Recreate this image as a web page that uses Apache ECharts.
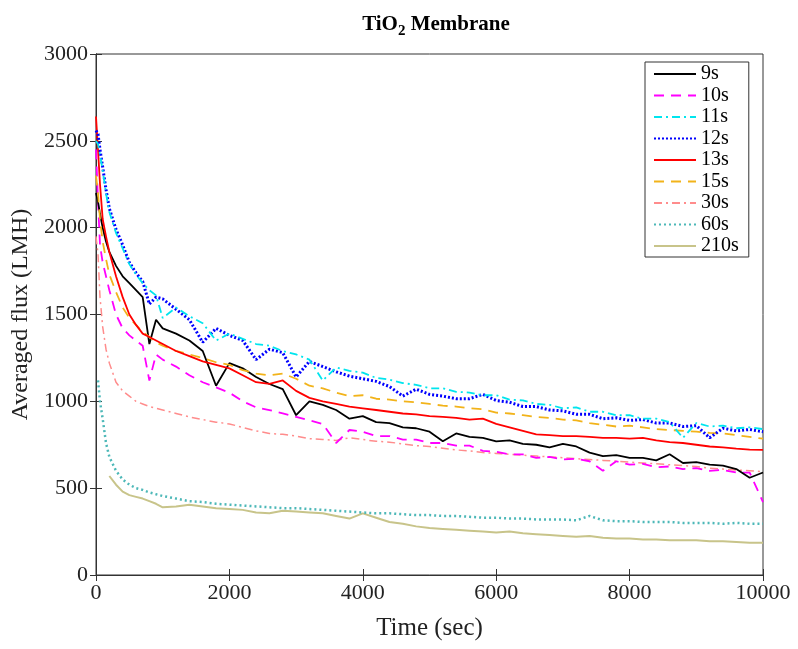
<!DOCTYPE html>
<html>
<head>
<meta charset="utf-8">
<script src="https://cdn.jsdelivr.net/npm/echarts@6/dist/echarts.min.js"></script>
<style>
  html, body { margin: 0; padding: 0; background: #fff; }
  #chart { width: 798px; height: 649px; }
</style>
</head>
<body>
<div id="chart"></div>
<script>
// time points (sec)
var times = [0, 30, 60, 100, 150, 200, 300, 400, 500, 600, 700, 800, 900, 1000,
  1200, 1400, 1600, 1800, 2000, 2200, 2400, 2600, 2800, 3000, 3200, 3400, 3600, 3800,
  4000, 4200, 4400, 4600, 4800, 5000, 5200, 5400, 5600, 5800, 6000, 6200, 6400, 6600,
  6800, 7000, 7200, 7400, 7600, 7800, 8000, 8200, 8400, 8600, 8800, 9000, 9200, 9400,
  9600, 9800, 10000];

var xTicks = [0, 2000, 4000, 6000, 8000, 10000];
var yTicks = [0, 500, 1000, 1500, 2000, 2500, 3000];
var names = ["9s", "10s", "11s", "12s", "13s", "15s", "30s", "60s", "210s"];

var flux9 = [2200, 2150, 2080, 2000, 1920, 1860, 1780, 1720, 1680, 1640, 1600, 1330, 1470, 1420,
  1390, 1350, 1290, 1090, 1220, 1190, 1140, 1100, 1070, 920, 1000, 980, 950, 900,
  915, 880, 875, 850, 845, 825, 770, 815, 795, 790, 770, 775, 755, 750,
  735, 755, 740, 705, 685, 690, 675, 675, 660, 695, 645, 650, 635, 630,
  610, 560, 590];
var flux10 = [2450, 2150, 1900, 1800, 1720, 1640, 1500, 1420, 1380, 1350, 1320, 1120, 1270, 1240,
  1200, 1150, 1110, 1080, 1050, 1000, 965, 950, 930, 910, 890, 870, 760, 835,
  825, 800, 800, 780, 780, 760, 760, 745, 745, 715, 710, 695, 695, 675,
  680, 665, 670, 655, 600, 655, 635, 640, 620, 625, 610, 615, 600, 605,
  590, 590, 420];
var flux11 = [2500, 2480, 2420, 2330, 2200, 2090, 1970, 1880, 1790, 1730, 1680, 1640, 1610, 1480,
  1540, 1490, 1450, 1350, 1390, 1360, 1330, 1320, 1290, 1270, 1240, 1120, 1195, 1175,
  1165, 1135, 1125, 1105, 1095, 1075, 1075, 1055, 1050, 1035, 1035, 1010, 1005, 985,
  980, 960, 965, 940, 940, 920, 920, 900, 900, 880, 790, 875, 855, 860,
  845, 850, 840];
var flux12 = [2560, 2540, 2450, 2350, 2220, 2110, 1990, 1900, 1800, 1740, 1690, 1560, 1600, 1590,
  1530, 1470, 1340, 1420, 1380, 1350, 1240, 1300, 1280, 1140, 1230, 1200, 1170, 1145,
  1130, 1115, 1085, 1030, 1070, 1040, 1030, 1015, 1015, 1040, 1005, 995, 970, 970,
  950, 945, 925, 925, 900, 905, 890, 895, 875, 875, 855, 860, 790, 845,
  830, 838, 825];
var flux13 = [2640, 2450, 2250, 2050, 1950, 1860, 1720, 1600, 1500, 1440, 1390, 1370, 1350, 1330,
  1290, 1260, 1230, 1210, 1190, 1150, 1110, 1100, 1120, 1060, 1020, 1000, 985, 970,
  960, 950, 940, 930, 925, 915, 910, 905, 895, 900, 870, 850, 830, 810,
  805, 800, 800, 795, 790, 790, 785, 790, 775, 765, 760, 750, 740, 735,
  728, 722, 720];
var flux15 = [2300, 2200, 2050, 1920, 1820, 1730, 1630, 1540, 1480, 1440, 1400, 1370, 1340, 1320,
  1290, 1270, 1250, 1225, 1210, 1180, 1160, 1150, 1160, 1130, 1090, 1075, 1050, 1030,
  1035, 1015, 1010, 1000, 995, 985, 975, 970, 960, 955, 935, 930, 920, 910,
  905, 895, 890, 875, 865, 855, 860, 850, 840, 835, 830, 825, 818, 815,
  805, 795, 785];
var flux30 = [1950, 1850, 1600, 1430, 1300, 1220, 1110, 1060, 1030, 1000, 985, 970, 960, 950,
  930, 910, 895, 880, 870, 850, 830, 815, 810, 800, 785, 780, 775, 790,
  780, 770, 765, 755, 745, 740, 730, 720, 715, 705, 700, 695, 690, 685,
  680, 675, 670, 665, 660, 655, 650, 645, 640, 635, 630, 625, 615, 610,
  605, 600, 595];
var flux60 = [null, 1120, 1000, 900, 760, 680, 600, 550, 520, 500, 490, 475, 465, 455,
  440, 425, 420, 410, 405, 400, 395, 390, 385, 385, 380, 375, 370, 365,
  360, 355, 355, 350, 345, 345, 340, 340, 335, 330, 330, 325, 325, 320,
  320, 320, 315, 340, 315, 310, 310, 305, 305, 305, 300, 300, 300, 295,
  300, 295, 295];
var flux210 = [null, null, null, null, null, 570, 520, 480, 460, 450, 440, 425, 410, 390,
  395, 405, 395, 385, 380, 375, 360, 355, 370, 365, 360, 355, 340, 325,
  355, 330, 305, 295, 280, 270, 265, 260, 255, 250, 245, 250, 240, 235,
  230, 225, 220, 225, 215, 210, 210, 205, 205, 200, 200, 200, 195, 195,
  190, 185, 185];

var serif = "Liberation Serif";

function pairs(vals) {
  return times.map(function (t, i) { return [t, vals[i]]; });
}

function line(name, vals, color, type, width) {
  return {
    name: name,
    type: "line",
    showSymbol: false,
    symbol: "none",
    data: pairs(vals),
    lineStyle: { color: color, type: type, width: width },
    itemStyle: { color: color }
  };
}

function frameAxis(extra) {
  var base = {
    type: "value",
    axisLine: { show: true, lineStyle: { color: "#333" } },
    axisTick: { show: true, inside: true, length: 6, lineStyle: { color: "#333" } },
    splitLine: { show: false }
  };
  return Object.assign(base, extra);
}

var chart = echarts.init(document.getElementById("chart"));
chart.setOption({
  animation: false,
  title: {
    text: "{a|TiO}{b|2}{a| Membrane}",
    left: 431,
    top: 6,
    textAlign: "center",
    textStyle: {
      rich: {
        a: { fontFamily: serif, fontWeight: "bold", fontSize: 21, color: "#000" },
        b: { fontFamily: serif, fontWeight: "bold", fontSize: 15, color: "#000", padding: [13, 0, 0, 0] }
      }
    }
  },
  grid: { left: 96, right: 35, top: 54, bottom: 74, show: true, borderColor: "#333", borderWidth: 1 },
  legend: {
    data: names,
    orient: "vertical",
    left: 645,
    top: 62,
    padding: [2, 10, 1, 8],
    backgroundColor: "#fff",
    borderColor: "#333",
    borderWidth: 1,
    borderRadius: 0,
    itemWidth: 42,
    itemHeight: 14,
    itemGap: 1.5,
    itemStyle: { opacity: 0 },
    textStyle: { fontFamily: serif, fontSize: 20, lineHeight: 20, color: "#000" }
  },
  xAxis: [frameAxis({
    min: 0,
    max: 10000,
    interval: 2000,
    name: "Time (sec)",
    nameLocation: "middle",
    nameGap: 41,
    nameTextStyle: { fontFamily: serif, fontSize: 25, color: "#222" },
    axisLabel: {
      fontFamily: serif, fontSize: 22, color: "#222", margin: 7,
      formatter: function (v) { return xTicks.indexOf(v) >= 0 ? String(v) : ""; }
    }
  }), frameAxis({
    position: "top",
    min: 0,
    max: 10000,
    interval: 2000,
    axisLabel: { show: false }
  })],
  yAxis: [frameAxis({
    min: 0,
    max: 3000,
    interval: 500,
    name: "Averaged flux (LMH)",
    nameLocation: "middle",
    nameGap: 60,
    nameTextStyle: { fontFamily: serif, fontSize: 24, color: "#222" },
    axisLabel: {
      fontFamily: serif, fontSize: 22, color: "#222", margin: 8,
      formatter: function (v) { return yTicks.indexOf(v) >= 0 ? String(v) : ""; }
    }
  }), frameAxis({
    position: "right",
    min: 0,
    max: 3000,
    interval: 500,
    axisLabel: { show: false }
  })],
  series: [
    line("210s", flux210, "#c8c48a", "solid", 2),
    line("60s", flux60, "#4db8b8", [2, 3], 2.5),
    line("30s", flux30, "#ff8c8c", [8, 4, 2, 4], 1.5),
    line("10s", flux10, "#ff00ff", [10, 7], 1.8),
    line("9s", flux9, "#000000", "solid", 1.8),
    line("15s", flux15, "#f2b31a", [10, 7], 1.8),
    line("13s", flux13, "#ff0000", "solid", 1.8),
    line("12s", flux12, "#0000ff", [2, 2], 3),
    line("11s", flux11, "#00e5ee", [8, 4, 2, 4], 1.8)
  ]
});
</script>
</body>
</html>
